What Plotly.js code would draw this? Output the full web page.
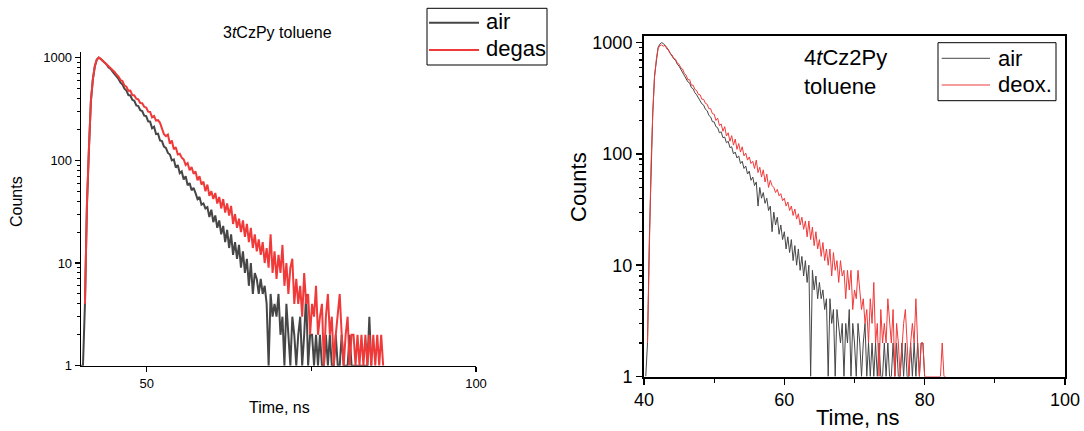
<!DOCTYPE html>
<html>
<head>
<meta charset="utf-8">
<script src="https://cdn.plot.ly/plotly-3.0.1.min.js"></script>
<style>html,body{margin:0;padding:0;background:#fff;}#chart{width:1084px;height:431px;}</style>
</head>
<body>
<div id="chart"></div>
<script>
// ---------- DATA ----------
// Left panel: 3tCzPy toluene, time channels start at tStartL with step tStepL (ns)
const tStartL = 40.0;
const tStepL = 0.3;
const airL = [1,1,4,36,125,375,610,820,955,1000,
 970,930,875,855,800,775,730,695,650,620,
 570,548,498,478,432,428,388,380,342,338,
 308,302,272,270,240,238,205,212,180,182,
 156,154,136,132,118,114,100,102,85,90,
 75,78,65,70,57,60,51,54,48,42,
 44,37,38,34,35,28,33,25,29,22,
 26,19,23,16,21,14,19,12,16,11,
 15,9,13,8,11,6,10,5,8,7,
 5,7,5,6,4,1,5,3,4,3,
 5,2,3,1,4,2,1,3,2,1,
 2,3,1,2,5,1,2,2,1,2,
 1,2,1,1,2,1,2,1,1,2,
 1,1,2,1,1,1,2,1,1,1,
 1,1,1,1,1,1,3,1];
const degasL = [null,null,4,38,130,380,620,830,960,1005,
 975,935,885,865,815,795,755,725,685,655,
 605,592,535,522,475,478,432,428,398,392,
 362,360,332,326,298,296,262,270,244,246,
 232,204,180,172,178,145,156,128,134,114,
 116,106,102,90,94,80,86,74,78,64,
 70,58,62,50,58,45,50,42,48,38,
 44,34,42,31,38,29,36,24,30,22,
 27,20,26,18,24,16,22,14,19,13,
 17,12,16,10,14,9,19,8,13,7,
 12,8,15,6,10,5,9,11,4,7,
 4,6,3,8,4,5,2,4,3,6,
 2,3,4,1,3,5,2,3,1,2,
 3,5,2,1,2,3,1,2,2,1,
 2,1,2,1,2,1,2,1,2,1,
 2,1,2,1];

// Right panel: 4tCz2Py toluene
const tStartR = 40.0;
const tStepR = 0.25;
const airR = [null,1,2,16,82,235,500,720,900,970,
 1000,985,950,905,850,800,765,715,695,640,
 615,575,555,505,485,445,435,395,385,355,
 340,318,305,282,275,252,245,222,215,195,
 194,176,172,155,158,140,142,126,130,114,
 116,100,104,92,96,82,86,74,78,66,
 70,58,62,52,56,34,50,40,45,36,
 40,31,34,20,30,23,27,19,23,17,
 20,14,18,13,17,11,15,10,14,9,
 12,8,11,7,10,1,9,6,8,5,
 7,5,6,4,5,1,5,3,4,1,
 4,3,2,3,1,3,2,4,1,3,
 2,1,3,2,1,2,3,1,2,1,
 2,1,2,1,2,1,1,2,1,2,
 1,1,2,1,2,1,1,2,1,2,
 1,1,2,1,2,1,2,1,2,2,
 1];
const deoxR = [null,null,2,15,80,230,490,700,880,940,
 955,930,945,880,865,795,775,720,710,655,
 640,595,580,530,510,465,465,415,415,380,
 372,342,340,310,310,285,280,255,255,230,
 228,200,210,180,186,160,176,145,155,130,
 146,120,136,110,124,104,116,96,102,88,
 94,82,86,74,88,68,76,62,72,56,
 66,50,58,52,50,45,48,42,44,38,
 40,34,37,31,34,28,32,26,29,23,
 27,21,25,18,25,17,22,15,20,14,
 17,12,16,11,14,10,14,8,13,9,
 11,7,11,8,9,5,9,6,9,4,
 6,5,9,6,4,5,3,4,2,5,
 3,7,2,3,1,4,2,3,2,5,
 3,2,4,1,3,2,1,2,3,4,
 2,1,2,3,2,5,2,1,2,2,
 1,1,1,1,1,1,1,1,1,1,
 2,1,1];

const seriesNamesL = ['air', 'degas'];
const seriesNamesR = ['air', 'deox.'];
const xTicksL = [50, 100];
const xTicksR = [40, 60, 80, 100];
const yTicks = [1, 10, 100, 1000];
const yMinor = [2,3,4,5,6,7,8,9,20,30,40,50,60,70,80,90,200,300,400,500,600,700,800,900];

// ---------- STYLE ----------
const GREY = 'rgb(70,70,70)';
const RED = 'rgb(240,58,58)';
const FONT = 'Arial, "Liberation Sans", sans-serif';
const W = 1084, H = 431;
const px = v => v / W;
const py = v => (H - v) / H;

const traces = [
  {x0: tStartL, dx: tStepL, y: airL, name: seriesNamesL[0], type: 'scatter', mode: 'lines',
   line: {color: GREY, width: 2}, xaxis: 'x', yaxis: 'y'},
  {x0: tStartL, dx: tStepL, y: degasL, name: seriesNamesL[1], type: 'scatter', mode: 'lines',
   line: {color: RED, width: 2}, xaxis: 'x', yaxis: 'y'},
  {x0: tStartR, dx: tStepR, y: airR, name: seriesNamesR[0], type: 'scatter', mode: 'lines',
   line: {color: GREY, width: 1}, xaxis: 'x2', yaxis: 'y2'},
  {x0: tStartR, dx: tStepR, y: deoxR, name: seriesNamesR[1], type: 'scatter', mode: 'lines',
   line: {color: RED, width: 1}, xaxis: 'x2', yaxis: 'y2'}
];

const axBase = {showgrid: false, zeroline: false, showline: true, linecolor: '#000',
  ticks: 'outside', tickcolor: '#000', fixedrange: true};

// legend boxes (drawn as shapes + text, matching the reference's long legend lines)
function legendBox(x0, y0, x1, y1) {
  return {type: 'rect', xref: 'paper', yref: 'paper', x0: px(x0), x1: px(x1), y0: py(y1), y1: py(y0),
    line: {color: '#000', width: 1}, fillcolor: '#fff', layer: 'above'};
}
function legendLine(x0, x1, y, color, w) {
  return {type: 'line', xref: 'paper', yref: 'paper', x0: px(x0), x1: px(x1), y0: py(y), y1: py(y),
    line: {color: color, width: w}, layer: 'above'};
}
function legendText(x, y, text) {
  return {xref: 'paper', yref: 'paper', x: px(x), y: py(y), xanchor: 'left', yanchor: 'middle',
    text: text, showarrow: false, font: {size: 22, family: FONT, color: '#000'}};
}

const layout = {
  width: W, height: H,
  margin: {l: 0, r: 0, t: 0, b: 0},
  paper_bgcolor: '#fff', plot_bgcolor: '#fff',
  font: {family: FONT, color: '#000'},
  showlegend: false,
  xaxis: Object.assign({}, axBase, {
    domain: [px(81), px(476)], range: [40, 100], anchor: 'y',
    linewidth: 1.3, ticklen: 5, tickwidth: 1.2,
    tickmode: 'array', tickvals: xTicksL, tickfont: {size: 13, family: FONT},
    minor: {tickmode: 'array', tickvals: [75], ticks: 'outside', ticklen: 4, tickwidth: 1, tickcolor: '#000'}
  }),
  yaxis: Object.assign({}, axBase, {
    domain: [(H - 365.7) / H, (H - 52) / H], type: 'log', range: [0, 3.055], anchor: 'x',
    linewidth: 1.3, ticklen: 5, tickwidth: 1.2,
    tickmode: 'array', tickvals: yTicks, ticktext: yTicks.map(String), tickfont: {size: 13, family: FONT},
    minor: {tickmode: 'array', tickvals: yMinor, ticks: 'outside', ticklen: 3, tickwidth: 1, tickcolor: '#000'}
  }),
  xaxis2: Object.assign({}, axBase, {
    domain: [px(644), px(1065)], range: [40, 100], anchor: 'y2', mirror: true,
    linewidth: 2, ticklen: 6, tickwidth: 1.5,
    tickmode: 'array', tickvals: xTicksR, tickfont: {size: 18, family: FONT},
    minor: {tickmode: 'array', tickvals: [50, 70, 90], ticks: 'outside', ticklen: 4, tickwidth: 1.2, tickcolor: '#000'}
  }),
  yaxis2: Object.assign({}, axBase, {
    domain: [(H - 376.5) / H, (H - 36) / H], type: 'log', range: [0, 3.06], anchor: 'x2', mirror: true,
    linewidth: 2, ticklen: 6, tickwidth: 1.5,
    tickmode: 'array', tickvals: yTicks, ticktext: yTicks.map(String), tickfont: {size: 18, family: FONT},
    minor: {tickmode: 'array', tickvals: yMinor, ticks: 'outside', ticklen: 3.5, tickwidth: 1.2, tickcolor: '#000'}
  }),
  shapes: [
    legendBox(427, 8.3, 547, 65),
    legendLine(429, 479, 22.7, GREY, 2),
    legendLine(429, 479, 50, RED, 2),
    legendBox(938, 42.7, 1056, 100.7),
    legendLine(941.7, 990, 58.3, GREY, 1),
    legendLine(941.7, 990, 85, RED, 1)
  ],
  annotations: [
    legendText(484, 22, seriesNamesL[0]),
    legendText(484, 49, seriesNamesL[1]),
    legendText(996, 58, seriesNamesR[0]),
    legendText(996, 84.5, seriesNamesR[1]),
    {xref: 'paper', yref: 'paper', x: px(277.4), y: py(33), xanchor: 'center', yanchor: 'middle',
     text: '3<i>t</i>CzPy toluene', showarrow: false, font: {size: 16, family: FONT}},
    {xref: 'paper', yref: 'paper', x: px(279), y: py(407), xanchor: 'center', yanchor: 'middle',
     text: 'Time, ns', showarrow: false, font: {size: 16, family: FONT}},
    {xref: 'paper', yref: 'paper', x: px(16), y: py(202), xanchor: 'center', yanchor: 'middle',
     text: 'Counts', textangle: -90, showarrow: false, font: {size: 16, family: FONT}},
    {xref: 'paper', yref: 'paper', x: px(802), y: py(71.5), xanchor: 'left', yanchor: 'middle', align: 'left',
     text: '4<i>t</i>Cz2Py<br>toluene', showarrow: false, font: {size: 22, family: FONT}},
    {xref: 'paper', yref: 'paper', x: px(858), y: py(417), xanchor: 'center', yanchor: 'middle',
     text: 'Time, ns', showarrow: false, font: {size: 22, family: FONT}},
    {xref: 'paper', yref: 'paper', x: px(578), y: py(187), xanchor: 'center', yanchor: 'middle',
     text: 'Counts', textangle: -90, showarrow: false, font: {size: 22, family: FONT}}
  ]
};

Plotly.newPlot('chart', traces, layout, {staticPlot: true, displayModeBar: false});
</script>
</body>
</html>
